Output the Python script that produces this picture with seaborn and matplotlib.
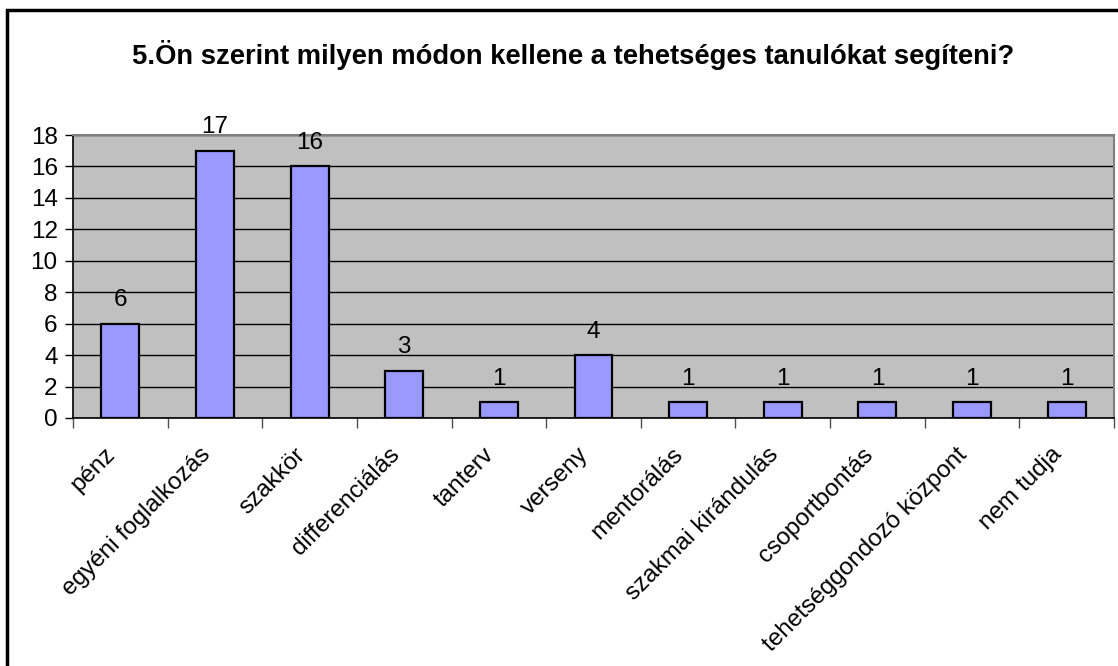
import matplotlib
matplotlib.use("Agg")
import matplotlib.pyplot as plt
import matplotlib.transforms as mtransforms
import seaborn as sns
import pandas as pd
from matplotlib.patches import Rectangle
from matplotlib.ticker import MultipleLocator, FixedLocator

# --- adatok ---
kategoriak = ["pénz", "egyéni foglalkozás", "szakkör", "differenciálás", "tanterv",
              "verseny", "mentorálás", "szakmai kirándulás", "csoportbontás",
              "tehetséggondozó központ", "nem tudja"]
ertekek = [6, 17, 16, 3, 1, 4, 1, 1, 1, 1, 1]
cim = "5.Ön szerint milyen módon kellene a tehetséges tanulókat segíteni?"

sns.set_style("white")
plt.rcParams['font.family'] = ['Liberation Sans', 'DejaVu Sans']
plt.rcParams.update({
    'text.color': 'black',
    'axes.labelcolor': 'black',
    'xtick.color': 'black',
    'ytick.color': 'black',
})

df = pd.DataFrame({"kat": kategoriak, "db": ertekek})

fig = plt.figure(figsize=(11.18, 6.66), dpi=100)
ax = fig.add_axes([73 / 1118, 1 - 418 / 666, (1114 - 73) / 1118, (418 - 135) / 666])

sns.barplot(data=df, x="kat", y="db", color="#9999FF", saturation=1, width=0.4,
            edgecolor="black", linewidth=1.6, ax=ax, zorder=3)

ax.set_facecolor("#C0C0C0")
ax.set_ylim(0, 18)
ax.set_xlim(-0.5, len(kategoriak) - 0.5)
ax.yaxis.set_major_locator(MultipleLocator(2))
ax.grid(axis="y", color="black", linewidth=1.0, zorder=1)
ax.grid(axis="x", visible=False)
ax.set_axisbelow(True)

for side in ["top", "right"]:
    ax.spines[side].set_color("#808080")
    ax.spines[side].set_linewidth(1.5)
for side in ["left", "bottom"]:
    ax.spines[side].set_color("black")
    ax.spines[side].set_linewidth(1.2)

ax.set_xlabel("")
ax.set_ylabel("")
ax.tick_params(axis="y", direction="out", length=6, width=1, labelsize=17.5, left=True, pad=5)
ax.tick_params(axis="x", which="major", length=0, pad=24)
ax.xaxis.set_minor_locator(FixedLocator([i - 0.5 for i in range(len(kategoriak) + 1)]))
ax.tick_params(axis="x", which="minor", direction="out", length=7, width=1, bottom=True,
               color="#505050")
ax.set_xticks(range(len(kategoriak)))
ax.set_xticklabels(kategoriak, rotation=45, ha="right", va="center", rotation_mode="anchor",
                   fontsize=17.5)
eltolas = mtransforms.ScaledTranslation(-8 / 100, 0, fig.dpi_scale_trans)
for lbl in ax.get_xticklabels():
    lbl.set_transform(lbl.get_transform() + eltolas)

for i, v in enumerate(ertekek):
    ax.annotate(str(v), (i, v), xytext=(0, 9), textcoords="offset points",
                ha="center", va="bottom", fontsize=17.5, annotation_clip=False)

fig.text(0.513, 1 - 55 / 666, cim, ha="center", va="center", fontsize=19.7, fontweight="bold")

# keret a diagram körül
fig.patches.append(Rectangle((7 / 1118, -0.1), 1.2, 1 - 10 / 666 + 0.1, transform=fig.transFigure,
                             fill=False, edgecolor="black", linewidth=2.5))

fig.savefig("out.png", dpi=100)
